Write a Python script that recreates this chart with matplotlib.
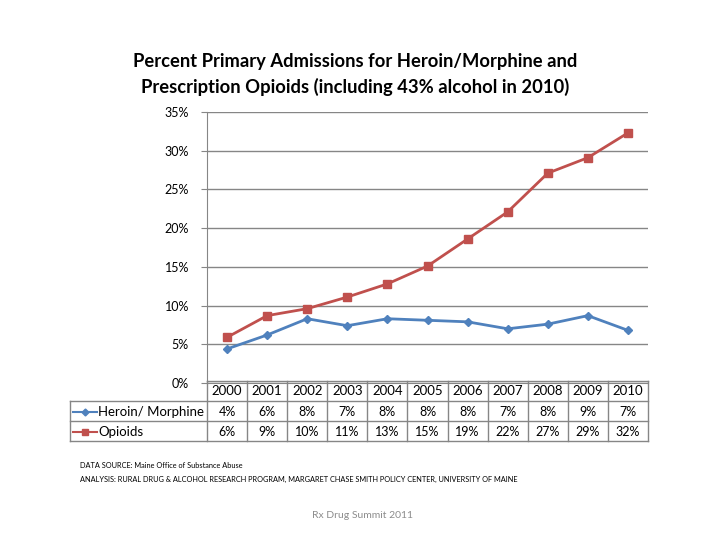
import matplotlib.pyplot as plt
from matplotlib.lines import Line2D
import numpy as np

plt.rcParams['font.family'] = ['Lato', 'DejaVu Sans']

years = ["2000", "2001", "2002", "2003", "2004", "2005",
         "2006", "2007", "2008", "2009", "2010"]
heroin = [4.4, 6.2, 8.3, 7.4, 8.3, 8.1, 7.9, 7.0, 7.6, 8.7, 6.8]
opioids = [5.9, 8.7, 9.6, 11.1, 12.8, 15.1, 18.6, 22.1, 27.1, 29.1, 32.3]
yticks = [0, 5, 10, 15, 20, 25, 30, 35]

blue = "#4F81BD"
red = "#C0504D"
grid_col = "#868686"

fig = plt.figure(figsize=(7.2, 5.4), dpi=100)
L, R = 207 / 720, 648 / 720
B, T = 1 - 383 / 540, 1 - 112 / 540
ax = fig.add_axes([L, B, R - L, T - B])

x = np.arange(len(years))
ax.plot(x, heroin, color=blue, lw=2.0, marker="D", ms=4.5, zorder=3)
ax.plot(x, opioids, color=red, lw=2.0, marker="s", ms=5.5, zorder=3)

ax.set_xlim(-0.5, len(years) - 0.5)
ax.set_ylim(0, 35)
ax.set_yticks(yticks)
ax.set_yticklabels([f"{t}%" for t in yticks], fontsize=9)
ax.set_xticks([])
ax.yaxis.grid(True, color=grid_col, lw=1.0)
ax.set_axisbelow(True)
for s in ["top", "right"]:
    ax.spines[s].set_visible(False)
ax.spines["left"].set_color(grid_col)
ax.spines["bottom"].set_color(grid_col)
ax.tick_params(axis="y", length=4, color=grid_col, pad=9)

fig.text(0.493, 1 - 62 / 540, "Percent Primary Admissions for Heroin/Morphine and",
         ha="center", va="center", fontsize=13.2, fontweight="bold")
fig.text(0.493, 1 - 87 / 540, "Prescription Opioids (including 43% alcohol in 2010)",
         ha="center", va="center", fontsize=13.2, fontweight="bold")

# data table under the axis
def fx(px):
    return px / 720

def fy(py):
    return 1 - py / 540

col_w = (648 - 207) / len(years)
rows_y = [381, 401, 421, 441]
lc = grid_col
# horizontal lines
fig.add_artist(Line2D([fx(207), fx(648)], [fy(rows_y[0])] * 2, color=lc, lw=1))
for yy in rows_y[1:]:
    fig.add_artist(Line2D([fx(70), fx(648)], [fy(yy)] * 2, color=lc, lw=1))
# vertical lines
fig.add_artist(Line2D([fx(70)] * 2, [fy(401), fy(441)], color=lc, lw=1))
fig.add_artist(Line2D([fx(207)] * 2, [fy(381), fy(441)], color=lc, lw=1))
for i in range(1, len(years) + 1):
    xx = 207 + col_w * i
    fig.add_artist(Line2D([fx(xx)] * 2, [fy(381), fy(441)], color=lc, lw=1))

for i, yr in enumerate(years):
    cx = 207 + col_w * (i + 0.5)
    fig.text(fx(cx), fy(391), yr, ha="center", va="center", fontsize=9.5)
    fig.text(fx(cx), fy(411.5), f"{round(heroin[i])}%", ha="center", va="center", fontsize=9)
    fig.text(fx(cx), fy(431.5), f"{round(opioids[i])}%", ha="center", va="center", fontsize=9)

# legend keys in the row labels
fig.add_artist(Line2D([fx(73), fx(85), fx(97)], [fy(411.5)] * 3, color=blue, lw=1.5,
                      marker="D", ms=3.5, markevery=[1], transform=fig.transFigure))
fig.add_artist(Line2D([fx(73), fx(85), fx(97)], [fy(431.5)] * 3, color=red, lw=1.5,
                      marker="s", ms=4, markevery=[1], transform=fig.transFigure))
fig.text(fx(98), fy(411.5), "Heroin/ Morphine", ha="left", va="center", fontsize=9.5)
fig.text(fx(98), fy(431.5), "Opioids", ha="left", va="center", fontsize=9.5)

fig.text(fx(80), fy(465), "DATA SOURCE: Maine Office of Substance Abuse",
         ha="left", va="center", fontsize=5.3)
fig.text(fx(80), fy(479),
         "ANALYSIS: RURAL DRUG & ALCOHOL RESEARCH PROGRAM, MARGARET CHASE SMITH POLICY CENTER, UNIVERSITY OF MAINE",
         ha="left", va="center", fontsize=5.3)
fig.text(fx(362), fy(516), "Rx Drug Summit 2011", ha="center", va="center",
         fontsize=7.5, color="#8C8C8C")

fig.savefig("out.png", dpi=100)
